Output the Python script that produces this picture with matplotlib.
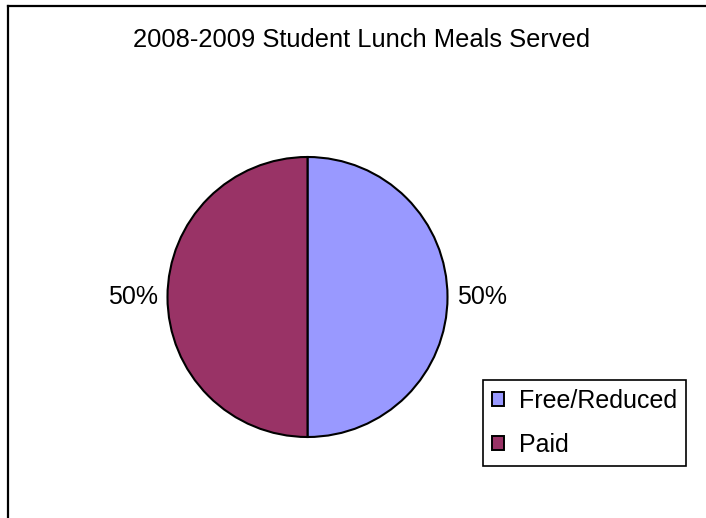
import matplotlib.pyplot as plt
from matplotlib.patches import Patch
from matplotlib.lines import Line2D

plt.rcParams['font.family'] = ['Liberation Sans', 'DejaVu Sans']

title = '2008-2009 Student Lunch Meals Served'
categories = ['Free/Reduced', 'Paid']
values = [50, 50]
colors = ['#9999FF', '#993366']

W, H = 706, 518
fig = plt.figure(figsize=(W / 100, H / 100), dpi=100)

# chart frame, only left and top edges are visible
fig.add_artist(Line2D([8 / W, 8 / W], [0, 1 - 6 / H], color='black', lw=1.6))
fig.add_artist(Line2D([8 / W, 1], [1 - 6 / H, 1 - 6 / H], color='black', lw=1.6))

cx, cy, r = 307.5, 297, 140
ax = fig.add_axes([(cx - r) / W, (H - cy - r) / H, 2 * r / W, 2 * r / H])
total = sum(values)
labels = ['%d%%' % round(v * 100 / total) for v in values]
wedges, texts = ax.pie(values, colors=colors, labels=labels, startangle=90,
                       counterclock=False, labeldistance=1.07,
                       wedgeprops=dict(edgecolor='black', linewidth=1.5),
                       textprops=dict(fontsize=18))
ax.set_xlim(-1, 1)
ax.set_ylim(-1, 1)
ax.set_aspect('equal')

fig.text(362 / W, 1 - 40 / H, title, ha='center', va='center', fontsize=18.4)

handles = [Patch(facecolor=c, edgecolor='black', linewidth=1.4) for c in colors]
leg = fig.legend(handles, categories, loc='upper left',
                 bbox_to_anchor=(483 / W, 1 - 380 / H), fontsize=18,
                 fancybox=False, edgecolor='black', framealpha=1,
                 handlelength=0.5, handleheight=0.5, handletextpad=0.6,
                 labelspacing=0.8, borderpad=0.35, borderaxespad=0)
leg.get_frame().set_linewidth(1.2)

fig.savefig('out.png', dpi=100)
